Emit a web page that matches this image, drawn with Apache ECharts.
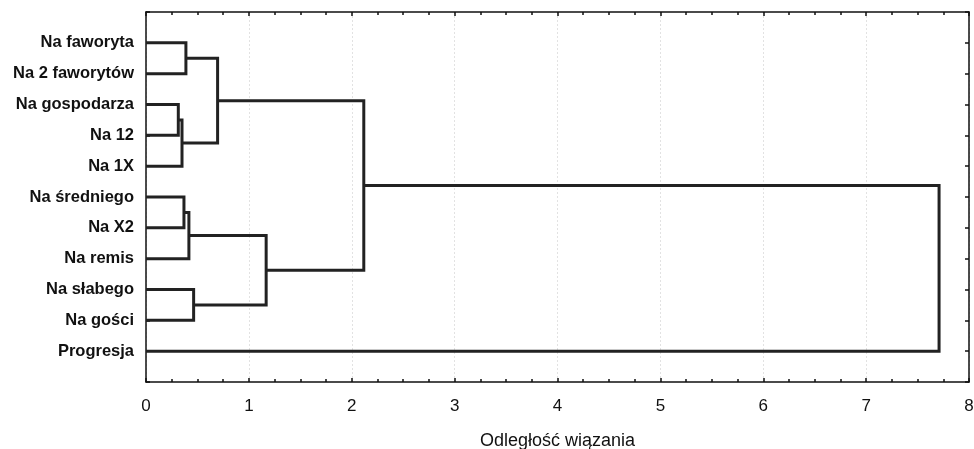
<!DOCTYPE html>
<html>
<head>
<meta charset="utf-8">
<script src="https://cdn.jsdelivr.net/npm/echarts@6/dist/echarts.min.js"></script>
<style>
html,body{margin:0;padding:0;background:#fff;}
#c{width:974px;height:449px;}
</style>
</head>
<body>
<div id="c"></div>
<script>
// Leaves, top to bottom
const leaves = ['Na faworyta','Na 2 faworytów','Na gospodarza','Na 12','Na 1X','Na średniego','Na X2','Na remis','Na słabego','Na gości','Progresja'];
// Merges: indices 0..10 are leaves, 11+ are clusters created in order
const mergeA = [2, 11, 0, 13, 5, 15, 8, 16, 14, 19];
const mergeB = [3, 4, 1, 12, 6, 7, 9, 17, 18, 10];
const mergeHeight = [0.314, 0.350, 0.388, 0.696, 0.369, 0.417, 0.463, 1.168, 2.117, 7.709];
const xTitle = 'Odległość wiązania';

const nodeX = [], nodeY = [];
leaves.forEach((l,i)=>{ nodeX.push(0); nodeY.push(i+1); });
const series = [];
mergeA.forEach((a,k)=>{
  const b = mergeB[k], h = mergeHeight[k];
  series.push({
    type:'line', silent:true, symbol:'none', animation:false,
    lineStyle:{color:'#222', width:3, join:'miter', cap:'butt'},
    data:[[nodeX[a],nodeY[a]],[h,nodeY[a]],[h,nodeY[b]],[nodeX[b],nodeY[b]]]
  });
  nodeX.push(h); nodeY.push((nodeY[a]+nodeY[b])/2);
});

const font = 'Arial, "Liberation Sans", sans-serif';
const chart = echarts.init(document.getElementById('c'), null, {renderer:'canvas'});
const axisLineStyle = {color:'#111', width:1.5};
chart.setOption({
  backgroundColor:'#fff',
  animation:false,
  grid:{left:146, right:5, top:12, bottom:67, containLabel:false, outerBoundsMode:'none'},
  xAxis:[{
    type:'value', min:0, max:8, interval:1, position:'bottom',
    axisLine:{show:true, onZero:false, lineStyle:axisLineStyle},
    axisTick:{show:true, inside:true, length:4, lineStyle:{color:'#111', width:1.5}},
    minorTick:{show:true, splitNumber:4, length:3, lineStyle:{color:'#111', width:1.5}},
    splitLine:{show:true, lineStyle:{color:'#e2e2e2', type:[2,2], width:1}},
    minorSplitLine:{show:false},
    axisLabel:{color:'#111', fontSize:17, fontFamily:font, margin:16},
    name:xTitle, nameLocation:'middle', nameGap:50,
    nameTextStyle:{color:'#111', fontSize:18, fontFamily:font}
  },{
    type:'value', min:0, max:8, interval:1, position:'top',
    axisLine:{show:true, onZero:false, lineStyle:axisLineStyle},
    axisTick:{show:true, inside:true, length:4, lineStyle:{color:'#111', width:1.5}},
    minorTick:{show:true, splitNumber:4, length:3, lineStyle:{color:'#111', width:1.5}},
    splitLine:{show:false}, minorSplitLine:{show:false}, axisLabel:{show:false}
  }],
  yAxis:[{
    type:'value', min:0, max:12, interval:1, inverse:true, position:'left',
    axisLine:{show:true, onZero:false, lineStyle:axisLineStyle},
    axisTick:{show:true, inside:true, length:4, lineStyle:{color:'#111', width:1.5}},
    splitLine:{show:false}, minorSplitLine:{show:false},
    axisLabel:{color:'#111', fontSize:16.5, fontWeight:'bold', fontFamily:font, margin:12,
      formatter:v=>leaves[v-1]||''}
  },{
    type:'value', min:0, max:12, interval:1, inverse:true, position:'right',
    axisLine:{show:true, onZero:false, lineStyle:axisLineStyle},
    axisTick:{show:true, inside:true, length:4, lineStyle:{color:'#111', width:1.5}},
    splitLine:{show:false}, minorSplitLine:{show:false}, axisLabel:{show:false}
  }],
  series:series
});
</script>
</body>
</html>
